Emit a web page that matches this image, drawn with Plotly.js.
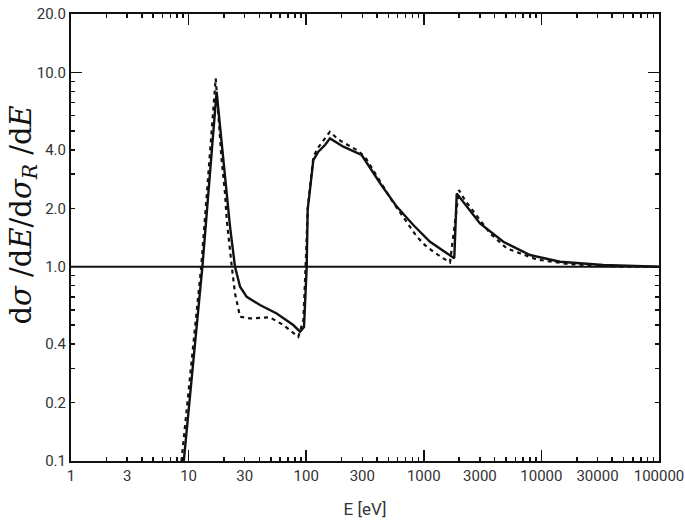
<!DOCTYPE html>
<html>
<head>
<meta charset="utf-8">
<script src="https://cdn.plot.ly/plotly-3.0.1.min.js"></script>
<style>html,body{margin:0;padding:0;background:#fff;}#plot{width:685px;height:529px;}</style>
</head>
<body>
<div id="plot"></div>
<script>
// Solid curve
var solidE = [9.1, 13.1, 17.3, 19.8, 22.5, 24.8, 25.9, 27.4, 31.2, 40.5, 56.1, 77.6, 88.6, 95.8, 101, 102.9, 115, 126.8, 144.5, 159.3, 207, 296, 340, 425, 588, 814, 1130, 1567, 1816, 1905, 3006, 4745, 8000, 14400, 33600, 100000];
var solidR = [0.1, 1.0, 7.96, 3.54, 1.61, 1.0, 0.888, 0.789, 0.70, 0.635, 0.575, 0.501, 0.463, 0.49, 1.0, 1.96, 3.54, 3.91, 4.23, 4.58, 4.15, 3.76, 3.31, 2.69, 2.04, 1.64, 1.345, 1.172, 1.105, 2.38, 1.67, 1.345, 1.149, 1.061, 1.02, 1.0];
// Dotted curve
var dotE = [8.7, 12.8, 17.0, 19.1, 20.4, 21.1, 23.3, 24.8, 27.4, 33.3, 49.2, 64, 85.7, 94.6, 100, 103, 115, 126.8, 159, 187.5, 269, 316, 533, 692, 871, 1023, 1205, 1466, 1671, 1990, 2239, 3658, 5069, 9120, 17500, 46600, 100000];
var dotR = [0.1, 1.0, 9.32, 3.54, 2.39, 1.74, 1.0, 0.73, 0.553, 0.542, 0.549, 0.501, 0.436, 0.53, 1.2, 2.0, 3.68, 4.12, 4.95, 4.52, 3.99, 3.68, 2.2, 1.74, 1.43, 1.293, 1.195, 1.105, 1.053, 2.48, 2.2, 1.486, 1.244, 1.09, 1.03, 1.0, 1.0];
// Reference line
var refE = [1, 100000];
var refR = [1, 1];

// Axis ticks
var xTickVals = [1, 3, 10, 30, 100, 300, 1000, 3000, 10000, 30000, 100000];
var xTickText = ['1', '3', '10', '30', '100', '300', '1000', '3000', '10000', '30000', '100000'];
var xDecades = [1, 10, 100, 1000, 10000, 100000];
var yTickVals = [0.1, 0.2, 0.4, 1, 2, 4, 10, 20];
var yTickText = ['0.1', '0.2', '0.4', '1.0', '2.0', '4.0', '10.0', '20.0'];
var yDecades = [0.1, 1, 10];
var mantissas = [2, 3, 4, 5, 6, 7, 8, 9];

var xMinor = [];
xDecades.slice(0, 5).forEach(function (d) { mantissas.forEach(function (m) { xMinor.push(d * m); }); });
var yMinor = [];
[0.1, 1, 10].forEach(function (d) { mantissas.forEach(function (m) { if (d * m <= 20) yMinor.push(d * m); }); });

var fam = 'Roboto, Liberation Sans, sans-serif';
var tickFont = {family: fam, size: 15, color: '#333'};

var traces = [
  {x: refE, y: refR, mode: 'lines', line: {color: '#111', width: 2}, hoverinfo: 'skip'},
  {x: dotE, y: dotR, mode: 'lines', line: {color: '#111', width: 2.2, dash: '4px,4px'}},
  {x: solidE, y: solidR, mode: 'lines', line: {color: '#111', width: 2.4}}
];

var xRange = [0, 5];
var yRange = [-1, Math.log10(20)];

var layout = {
  width: 685, height: 529,
  margin: {l: 71, r: 26, t: 14, b: 68},
  paper_bgcolor: '#fff', plot_bgcolor: '#fff',
  showlegend: false,
  xaxis: {
    type: 'log', range: xRange, tickmode: 'array', tickvals: xTickVals, ticktext: xTickText,
    tickangle: 0, ticks: 'inside', ticklen: 4, tickwidth: 1.5, tickcolor: '#111', ticklabeloverflow: 'allow',
    showline: true, linecolor: '#111', linewidth: 2, mirror: 'allticks',
    showgrid: false, zeroline: false, tickfont: tickFont,
    minor: {tickmode: 'array', tickvals: xMinor, ticks: 'inside', ticklen: 4, tickwidth: 1.5, tickcolor: '#111', showgrid: false},
    title: {text: 'E [eV]', font: {family: fam, size: 17, color: '#333'}, standoff: 19}
  },
  xaxis2: {
    type: 'log', range: xRange, overlaying: 'x', side: 'bottom', anchor: 'y',
    tickmode: 'array', tickvals: xDecades, ticks: 'inside', ticklen: 11, tickwidth: 1.5, tickcolor: '#111',
    showticklabels: false, showline: false, mirror: 'ticks', showgrid: false, zeroline: false
  },
  yaxis: {
    type: 'log', range: yRange, tickmode: 'array', tickvals: yTickVals, ticktext: yTickText,
    ticks: 'inside', ticklen: 4, tickwidth: 1.5, tickcolor: '#111', ticklabeloverflow: 'allow',
    showline: true, linecolor: '#111', linewidth: 2, mirror: 'allticks',
    showgrid: false, zeroline: false, tickfont: tickFont,
    minor: {tickmode: 'array', tickvals: yMinor, ticks: 'inside', ticklen: 4, tickwidth: 1.5, tickcolor: '#111', showgrid: false}
  },
  yaxis2: {
    type: 'log', range: yRange, overlaying: 'y', side: 'left', anchor: 'x',
    tickmode: 'array', tickvals: yDecades, ticks: 'inside', ticklen: 11, tickwidth: 1.5, tickcolor: '#111',
    showticklabels: false, showline: false, mirror: 'ticks', showgrid: false, zeroline: false
  },
  annotations: [{
    text: 'd<i>σ</i> /d<i>E</i>/d<i>σ</i><sub><i>R</i></sub> /d<i>E</i>',
    xref: 'paper', yref: 'paper', x: -0.081, y: 0.55, xanchor: 'center', yanchor: 'middle',
    textangle: -90, showarrow: false,
    font: {family: 'DejaVu Serif, Liberation Serif, serif', size: 29, color: '#111'}
  }]
};

traces.push({x: refE, y: refR, xaxis: 'x2', yaxis: 'y2', mode: 'lines', line: {width: 0}, hoverinfo: 'skip', showlegend: false});

Plotly.newPlot('plot', traces, layout, {displayModeBar: false, staticPlot: true});
</script>
</body>
</html>
